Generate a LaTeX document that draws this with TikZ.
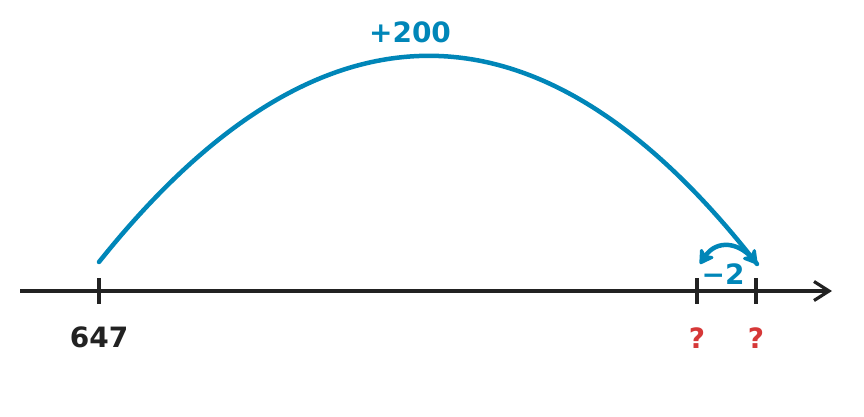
\documentclass[tikz,border=0pt]{standalone}
\usepackage{fontspec}
\setmainfont{DejaVu Sans}
\usetikzlibrary{arrows.meta,positioning}
\definecolor{jumpblue}{RGB}{0,134,184}
\definecolor{axisblack}{RGB}{34,34,34}
\definecolor{askred}{RGB}{214,56,56}
\tikzset{
    axisline/.style={draw=axisblack,line width=3.2pt,-{Straight Barb[length=15pt,width=19pt,line width=3.2pt]}},
    tickmark/.style={draw=axisblack,line width=3.2pt},
    jumparc/.style={draw=jumpblue,line width=4.5pt,line cap=round,-{Stealth[length=17pt,width=20pt,inset=5pt,round]}},
    numlabel/.style={font=\bfseries\fontsize{28}{28}\selectfont,text=axisblack,inner sep=0pt},
    asklabel/.style={font=\bfseries\fontsize{28}{28}\selectfont,text=askred,inner sep=0pt},
    jumplabel/.style={font=\bfseries\fontsize{28}{28}\selectfont,text=jumpblue,inner sep=0pt}
}
\begin{document}
\begin{tikzpicture}[x=1pt,y=-1pt]
        \useasboundingbox (0,0) rectangle (864,416);
        % number line
        \coordinate (axstart) at (20,291);
        \coordinate (axend) at (832,291);
        \draw[axisline] (axstart) -- (axend);
        % ticks
        \coordinate (tstart) at (99,291);
        \coordinate (tleft) at (697,291);
        \coordinate (tright) at (756,291);
        \foreach \t in {tstart,tleft,tright}
            \draw[tickmark] ([yshift=13pt]\t) -- ([yshift=-13pt]\t);
        \node[numlabel,anchor=base] (startlbl) at (99,347) {647};
        \node[asklabel,anchor=base] (leftask) at (697,348) {?};
        \node[asklabel,anchor=base] (rightask) at (756,348) {?};

        % jumps
        \coordinate (bigfrom) at (99,262);
        \coordinate (bigto) at (757,264);
        \draw[jumparc] (bigfrom) .. controls (318,-12) and (538,-12) .. (bigto);
        \node[jumplabel,anchor=base] (bigjumplbl) at (410,42) {+200};
        \coordinate (smallto) at (700,264);
        \draw[jumparc] (bigto) .. controls (740,240) and (716,240) .. (smallto);
        \node[jumplabel,anchor=base] (smalljumplbl) at (723,284) {−2};
\end{tikzpicture}
\end{document}
